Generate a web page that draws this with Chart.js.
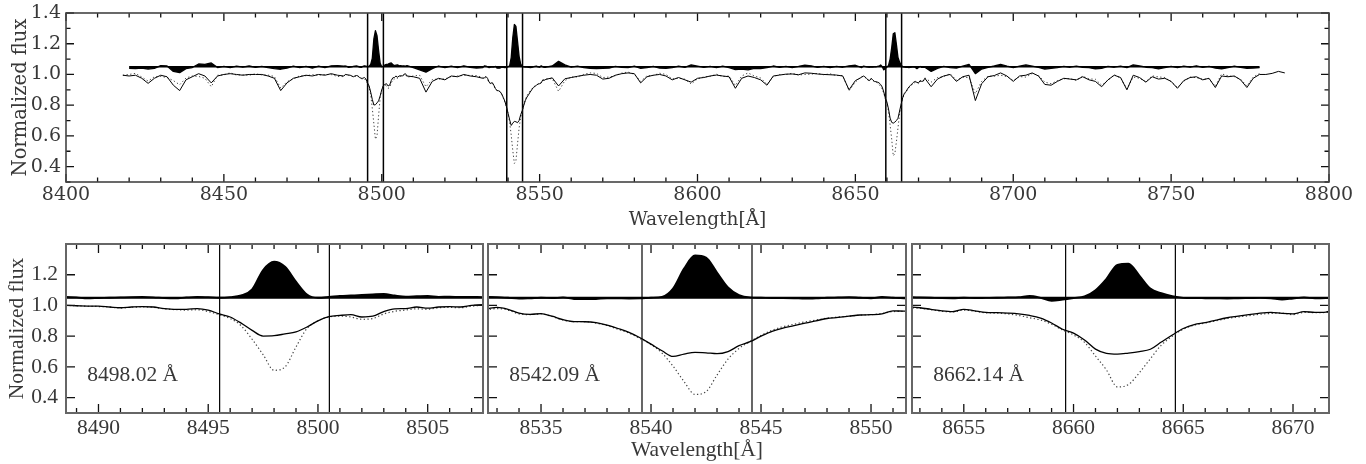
<!DOCTYPE html>
<html>

<head>
  <title>Ca II triplet spectrum</title>
  <script src="https://cdn.jsdelivr.net/npm/chart.js"></script>
  <style>
    body {
      margin: 0;
      background: #fff;
    }

    #figure {
      position: relative;
      width: 1366px;
      height: 464px;
    }

    #figure canvas {
      position: absolute;
    }

    #overview { left: 0; top: 0; }
    #zoom1 { left: 0; top: 236px; }
    #zoom2 { left: 486px; top: 236px; }
    #zoom3 { left: 910px; top: 236px; }
  </style>
</head>

<body>
  <div id="figure">
    <canvas id="overview" width="1366" height="236"></canvas>
    <canvas id="zoom1" width="486" height="228"></canvas>
    <canvas id="zoom2" width="422" height="228"></canvas>
    <canvas id="zoom3" width="456" height="228"></canvas>
  </div>

  <script>
    // ---------------- data ----------------
    // wavelength grid [A]: 2 A steps, 0.5 A steps around the three Ca II lines
    const wave = [
      8418, 8420, 8422, 8424, 8426, 8428, 8430, 8432, 8434, 8436, 8438, 8440, 8442, 8444, 8446, 8448, 8450, 8452,
      8454, 8456, 8458, 8460, 8462, 8464, 8466, 8468, 8470, 8472, 8474, 8476, 8478, 8480, 8482, 8484, 8486, 8488,
      8488.5, 8489, 8489.5, 8490, 8490.5, 8491, 8491.5, 8492, 8492.5, 8493,
      8493.5, 8494, 8494.5, 8495, 8495.5, 8496, 8496.5, 8497, 8497.5, 8498,
      8498.5, 8499, 8499.5, 8500, 8500.5, 8501, 8501.5, 8502, 8502.5, 8503,
      8503.5, 8504, 8504.5, 8505, 8505.5, 8506, 8506.5, 8507, 8507.5,
      8508, 8510, 8512, 8514, 8516, 8518, 8520, 8522, 8524, 8526, 8528, 8530, 8532,
      8532.5, 8533, 8533.5, 8534, 8534.5, 8535, 8535.5, 8536, 8536.5, 8537,
      8537.5, 8538, 8538.5, 8539, 8539.5, 8540, 8540.5, 8541, 8541.5, 8542,
      8542.5, 8543, 8543.5, 8544, 8544.5, 8545, 8545.5, 8546, 8546.5, 8547,
      8547.5, 8548, 8548.5, 8549, 8549.5, 8550, 8550.5, 8551, 8551.5,
      8552, 8554, 8556, 8558, 8560, 8562, 8564, 8566, 8568, 8570,
      8572, 8574, 8576, 8578, 8580, 8582, 8584, 8586, 8588, 8590,
      8592, 8594, 8596, 8598, 8600, 8602, 8604, 8606, 8608, 8610,
      8612, 8614, 8616, 8618, 8620, 8622, 8624, 8626, 8628, 8630,
      8632, 8634, 8636, 8638, 8640, 8642, 8644, 8646, 8648, 8650, 8652,
      8652.5, 8653, 8653.5, 8654, 8654.5, 8655, 8655.5, 8656, 8656.5, 8657,
      8657.5, 8658, 8658.5, 8659, 8659.5, 8660, 8660.5, 8661, 8661.5, 8662,
      8662.5, 8663, 8663.5, 8664, 8664.5, 8665, 8665.5, 8666, 8666.5, 8667,
      8667.5, 8668, 8668.5, 8669, 8669.5, 8670, 8670.5, 8671, 8671.5,
      8672, 8674, 8676, 8678, 8680, 8682, 8684, 8686, 8688, 8690,
      8692, 8694, 8696, 8698, 8700, 8702, 8704, 8706, 8708, 8710,
      8712, 8714, 8716, 8718, 8720, 8722, 8724, 8726, 8728, 8730,
      8732, 8734, 8736, 8738, 8740, 8742, 8744, 8746, 8748, 8750,
      8752, 8754, 8756, 8758, 8760, 8762, 8764, 8766, 8768, 8770,
      8772, 8774, 8776, 8778, 8780, 8782, 8784, 8786
    ];

    // observed spectrum (solid line)
    const obsFlux = [
      0.995, 0.99, 0.995, 0.975, 0.942, 0.975, 0.995, 0.985, 0.93, 0.895,
      0.965, 0.985, 1.005, 0.99, 0.945, 0.99, 1.0, 1.005, 1.0, 0.995,
      1.0, 1.0, 1.0, 0.99, 0.975, 0.895, 0.945, 0.975, 0.985, 0.995,
      0.99, 1.0, 0.995, 1.005, 0.995, 0.99,
      1.0, 0.998, 0.996, 0.995, 0.99, 0.985, 0.99, 0.993, 0.99, 0.98,
      0.975, 0.975, 0.98, 0.97, 0.945, 0.925, 0.885, 0.838, 0.801, 0.803,
      0.815, 0.828, 0.86, 0.9, 0.927, 0.935, 0.94, 0.925, 0.93, 0.96,
      0.978, 0.98, 0.99, 0.982, 0.99, 0.992, 0.99, 1.0, 1.005,
      0.99, 0.985, 0.975, 0.885, 0.955, 0.975, 0.965, 0.99, 0.985, 1.0, 0.99, 0.985, 0.975,
      0.978, 0.987, 0.975, 0.95, 0.942, 0.947, 0.93, 0.908, 0.895, 0.894,
      0.888, 0.872, 0.85, 0.825, 0.79, 0.748, 0.705, 0.668, 0.683, 0.695,
      0.692, 0.686, 0.7, 0.738, 0.764, 0.8, 0.832, 0.853, 0.868, 0.885,
      0.9, 0.915, 0.922, 0.93, 0.938, 0.94, 0.945, 0.965, 0.963,
      0.968, 0.978, 0.925, 0.972, 0.98, 0.988, 0.995, 1.0, 0.995, 0.97,
      0.975, 0.995, 1.005, 1.01, 1.005, 0.945, 0.985, 0.995, 1.0, 0.99,
      0.965, 0.98, 0.965, 0.95, 0.975, 0.98, 0.99, 0.996, 0.99, 0.985,
      0.91, 0.975, 0.99, 0.98, 0.965, 0.93, 0.99, 0.996, 1.002, 1.003,
      0.998, 1.01, 1.008, 1.003, 1.0, 0.998, 0.996, 0.99, 0.9, 0.96, 0.982,
      0.99, 0.985, 0.975, 0.965, 0.96, 0.975, 0.965, 0.955, 0.953, 0.95,
      0.945, 0.935, 0.918, 0.886, 0.845, 0.82, 0.775, 0.716, 0.688, 0.683,
      0.69, 0.7, 0.715, 0.762, 0.808, 0.85, 0.876, 0.888, 0.905, 0.92,
      0.93, 0.94, 0.95, 0.955, 0.948, 0.945, 0.96, 0.955, 0.957,
      0.975, 0.92, 0.97, 0.99, 1.0, 0.955, 0.985, 0.995, 0.83, 0.94,
      0.985, 0.993, 1.01, 0.99, 0.955, 0.99, 0.995, 1.01, 0.99, 0.935,
      0.93, 0.955, 0.975, 0.97, 0.965, 0.985, 0.965, 0.955, 0.92, 0.965,
      0.995, 0.98, 0.9, 0.995, 0.98, 0.95, 0.985, 0.97, 0.975, 0.955,
      0.91, 0.96, 0.98, 0.985, 0.965, 0.975, 0.915, 0.99, 0.985, 0.99,
      0.965, 0.915, 0.975, 1.0, 1.0, 1.007, 1.02, 1.01
    ];

    // template spectrum (dotted line)
    const tmplFlux = [
      0.995, 1.0, 1.007, 0.983, 0.957, 0.985, 0.987, 0.98, 0.96, 0.933,
      0.977, 0.99, 0.987, 0.975, 0.92, 0.995, 0.997, 1.011, 0.996, 0.998,
      0.995, 1.004, 0.997, 0.996, 0.987, 0.911, 0.953, 0.971, 0.991, 0.992,
      0.998, 0.996, 1.0, 0.999, 0.987, 0.986,
      1.0, 0.998, 0.995, 0.993, 0.99, 0.983, 0.988, 0.99, 0.988, 0.978,
      0.973, 0.97, 0.972, 0.96, 0.94, 0.915, 0.868, 0.78, 0.68, 0.578,
      0.6, 0.73, 0.85, 0.9, 0.925, 0.93, 0.925, 0.91, 0.915, 0.945,
      0.962, 0.97, 0.978, 0.975, 0.985, 0.987, 0.985, 0.995, 1.0,
      0.982, 0.99, 0.995, 0.92, 0.967, 0.97, 0.971, 0.986, 0.99, 0.994, 0.994, 0.993, 0.98,
      0.972, 0.98, 0.97, 0.945, 0.94, 0.945, 0.928, 0.905, 0.895, 0.895,
      0.885, 0.87, 0.845, 0.82, 0.785, 0.745, 0.69, 0.605, 0.505, 0.421,
      0.439, 0.547, 0.651, 0.72, 0.765, 0.805, 0.838, 0.862, 0.878, 0.893,
      0.905, 0.917, 0.925, 0.93, 0.937, 0.94, 0.948, 0.96, 0.962,
      0.971, 0.973, 0.89, 0.96, 0.983, 0.984, 1.001, 1.01, 1.007, 0.98,
      0.983, 0.992, 1.009, 1.016, 1.001, 0.955, 0.991, 0.993, 1.008, 1.0,
      0.971, 0.976, 0.969, 0.938, 0.971, 0.984, 0.987, 1.002, 0.986, 0.99,
      0.928, 0.99, 1.01, 0.99, 0.977, 0.936, 0.985, 1.0, 0.999, 1.008,
      0.996, 1.0, 1.002, 1.007, 0.998, 1.004, 0.993, 0.993, 0.894, 0.95, 0.987,
      0.985, 0.982, 0.972, 0.962, 0.958, 0.97, 0.962, 0.952, 0.95, 0.945,
      0.935, 0.92, 0.905, 0.878, 0.84, 0.808, 0.76, 0.671, 0.58, 0.47,
      0.485, 0.562, 0.653, 0.742, 0.8, 0.845, 0.872, 0.885, 0.9, 0.915,
      0.925, 0.933, 0.943, 0.948, 0.95, 0.94, 0.955, 0.953, 0.955,
      0.978, 0.95, 0.98, 0.987, 1.005, 0.963, 0.981, 0.98, 0.875, 0.955,
      0.989, 0.988, 0.995, 0.986, 0.961, 0.986, 0.983, 1.006, 0.994, 0.95,
      0.94, 0.96, 0.972, 0.973, 0.961, 0.989, 0.971, 0.969, 0.93, 0.962,
      0.998, 0.976, 0.906, 0.983, 0.975, 0.953, 0.991, 0.984, 0.98, 0.952,
      0.916, 0.956, 0.983, 0.979, 0.969, 0.972, 0.923, 1.004, 0.991, 0.986,
      0.969, 0.925, 0.983, 1.006, null, null, null, null
    ];

    // observed minus template, plotted shifted up by residualOffset (black fill)
    const residual = [
      null, -0.01, -0.012, -0.008, -0.015, -0.01, 0.008, 0.005, -0.03, -0.038,
      -0.012, -0.005, 0.018, 0.015, 0.025, -0.005, 0.003, -0.006, 0.004, -0.003,
      0.005, -0.004, 0.003, -0.006, -0.012, -0.016, -0.008, 0.004, -0.006, 0.003,
      -0.008, 0.004, -0.005, 0.006, 0.008, 0.004,
      0.005, 0.002, -0.004, -0.002, 0.0, 0.002, 0.004, 0.005, 0.003, -0.002,
      -0.004, 0.002, 0.006, 0.004, 0.0, 0.004, 0.015, 0.055, 0.181, 0.235,
      0.202, 0.105, 0.022, 0.0, 0.005, 0.012, 0.015, 0.018, 0.022, 0.025,
      0.015, 0.008, 0.01, 0.012, 0.006, 0.008, 0.005, 0.006, 0.004,
      0.008, -0.005, -0.02, -0.035, -0.012, 0.005, -0.006, 0.004, -0.005, 0.006, -0.004, -0.008, -0.005,
      0.006, 0.004, 0.0, -0.005, -0.003, 0.0, -0.002, 0.002, -0.008, -0.009,
      -0.008, -0.003, -0.004, -0.005, -0.004, 0.0, 0.006, 0.06, 0.19, 0.275,
      0.262, 0.165, 0.068, 0.018, 0.002, 0.0, -0.002, -0.002, -0.003, -0.006,
      -0.004, 0.0, 0.002, 0.004, 0.0, -0.003, 0.006, 0.0, -0.004,
      -0.003, 0.005, 0.035, 0.012, -0.003, 0.004, -0.006, -0.01, -0.012, -0.01,
      -0.008, 0.003, -0.004, -0.006, 0.004, -0.01, -0.006, 0.002, -0.008, -0.01,
      -0.006, 0.004, -0.004, 0.012, 0.004, -0.004, 0.003, -0.006, 0.004, -0.005,
      -0.018, -0.015, -0.02, -0.01, -0.012, -0.006, 0.005, -0.004, 0.003, -0.005,
      0.002, 0.01, 0.006, -0.004, 0.002, -0.006, 0.003, -0.003, 0.006, 0.01, -0.005,
      0.004, 0.002, 0.0, -0.002, -0.003, 0.0, -0.002, -0.001, 0.0, 0.002,
      0.004, 0.012, 0.0, -0.02, -0.012, -0.002, 0.009, 0.05, 0.124, 0.215,
      0.222, 0.145, 0.06, 0.03, 0.011, 0.0, -0.002, -0.003, -0.004, -0.005,
      -0.003, -0.002, -0.001, -0.004, -0.012, -0.005, 0.002, -0.004, -0.002,
      -0.003, -0.03, -0.01, 0.003, -0.005, -0.008, 0.004, 0.015, -0.045, -0.015,
      -0.004, 0.005, 0.015, 0.004, -0.006, 0.004, 0.012, 0.004, -0.004, -0.015,
      -0.01, -0.005, 0.003, -0.003, 0.004, -0.004, -0.006, -0.014, -0.01, 0.003,
      -0.003, 0.004, -0.006, 0.012, 0.005, -0.003, -0.006, -0.014, -0.005, 0.003,
      -0.006, 0.004, -0.003, 0.006, -0.004, 0.003, -0.008, -0.014, -0.006, 0.004,
      -0.004, -0.01, -0.008, -0.006, null, null, null, null
    ];

    const lineCenters = [8498.02, 8542.09, 8662.14];
    const lineLabels = ["8498.02 Å", "8542.09 Å", "8662.14 Å"];
    const windowHalfWidth = 2.5;  // integration window [A]
    const zoomHalfWidth = 9.5;    // half range of the lower panels [A]
    const residualOffset = 1.05;
    const fluxMin = 0.3;
    const fluxMax = 1.4;

    const overviewXTicks = [8400, 8450, 8500, 8550, 8600, 8650, 8700, 8750, 8800];
    const overviewYTicks = [0.4, 0.6, 0.8, 1.0, 1.2, 1.4];
    const zoomXTicks = [
      [8490, 8495, 8500, 8505],
      [8535, 8540, 8545, 8550],
      [8655, 8660, 8665, 8670]
    ];
    const zoomYTicks = [0.4, 0.6, 0.8, 1.0, 1.2];

    // ---------------- styling ----------------
    const ink = "#000";
    const textColor = "#383838";
    const topFont = "DejaVu Serif";
    const lowFont = "Liberation Serif";

    // inward ticks + frame + panel label, per canvas
    const frameSpecs = {};

    function steps(min, max, step) {
      const out = [];
      for (let k = Math.ceil(min / step - 1e-6); k * step <= max + 1e-6; k++) out.push(k * step);
      return out;
    }

    const framePlugin = {
      id: "frame",
      afterDraw(chart) {
        const spec = frameSpecs[chart.canvas.id];
        if (!spec) return;
        const { ctx, chartArea: a } = chart;
        const x = chart.scales.x;
        const y = chart.scales.y;
        ctx.save();
        ctx.strokeStyle = "#111";
        ctx.lineWidth = 1.3;
        ctx.beginPath();
        const xTick = (v, len) => {
          const px = x.getPixelForValue(v);
          ctx.moveTo(px, a.bottom);
          ctx.lineTo(px, a.bottom - len);
          ctx.moveTo(px, a.top);
          ctx.lineTo(px, a.top + len);
        };
        const yTick = (v, len) => {
          const py = y.getPixelForValue(v);
          ctx.moveTo(a.left, py);
          ctx.lineTo(a.left + len, py);
          ctx.moveTo(a.right, py);
          ctx.lineTo(a.right - len, py);
        };
        steps(x.min, x.max, spec.xMinorStep).forEach(v => xTick(v, spec.minorLen));
        spec.xMajor.forEach(v => xTick(v, spec.majorLen));
        if (spec.yMinorStep) steps(y.min, y.max, spec.yMinorStep).forEach(v => yTick(v, spec.minorLen));
        spec.yMajor.forEach(v => yTick(v, spec.majorLen));
        ctx.stroke();

        ctx.strokeStyle = spec.frameColor;
        ctx.lineWidth = spec.frameWidth;
        ctx.strokeRect(a.left, a.top, a.right - a.left, a.bottom - a.top);

        if (spec.label) {
          ctx.fillStyle = textColor;
          ctx.font = spec.labelFont;
          ctx.textAlign = "left";
          ctx.textBaseline = "middle";
          ctx.fillText(spec.label, x.getPixelForValue(spec.labelX), y.getPixelForValue(spec.labelY));
        }
        ctx.restore();
      }
    };
    Chart.register(framePlugin);

    function points(values, offset, lo, hi) {
      const out = [];
      wave.forEach((w, i) => {
        if (w < lo || w > hi) return;
        const v = values[i];
        out.push({ x: w, y: v === null ? null : v + offset });
      });
      return out;
    }

    function spectrumDatasets(lo, hi, smooth, baseLo, baseHi) {
      const common = {
        pointRadius: 0,
        borderJoinStyle: "round",
        cubicInterpolationMode: smooth ? "monotone" : "default",
        tension: 0
      };
      return [
        { ...common, data: points(obsFlux, 0, lo, hi), borderColor: ink, borderWidth: smooth ? 1.3 : 1, fill: false, order: 0 },
        { ...common, data: points(tmplFlux, 0, lo, hi), borderColor: "#444", borderWidth: smooth ? 1.2 : 1, borderDash: [1.3, 2.4], fill: false, order: 1 },
        { ...common, data: [{ x: baseLo, y: residualOffset }, { x: baseHi, y: residualOffset }], borderColor: ink, borderWidth: smooth ? 2 : 1.6, fill: false, order: 2 },
        { ...common, data: points(residual, residualOffset, lo, hi), borderColor: ink, backgroundColor: ink, borderWidth: smooth ? 1.8 : 1.3, fill: { value: residualOffset }, order: 3 }
      ];
    }

    function windowLines(centers, width) {
      const out = [];
      centers.forEach(c => {
        [c - windowHalfWidth, c + windowHalfWidth].forEach(e => {
          out.push({
            data: [{ x: e, y: fluxMin }, { x: e, y: fluxMax }],
            borderColor: ink,
            borderWidth: width,
            pointRadius: 0,
            fill: false,
            order: 4
          });
        });
      });
      return out;
    }

    function baseOptions(padding) {
      return {
        responsive: false,
        animation: false,
        devicePixelRatio: 1,
        events: [],
        layout: { padding: padding },
        plugins: { legend: { display: false }, tooltip: { enabled: false } }
      };
    }

    // ---------------- overview panel ----------------
    const resIdx = residual.map((v, i) => (v === null ? -1 : i)).filter(i => i >= 0);
    const resLo = wave[resIdx[0]];
    const resHi = wave[resIdx[resIdx.length - 1]];

    frameSpecs.overview = {
      xMajor: overviewXTicks, xMinorStep: 10,
      yMajor: overviewYTicks, yMinorStep: 0.1,
      majorLen: 8, minorLen: 4.5,
      frameColor: "#444", frameWidth: 1.6
    };

    const overviewOptions = baseOptions({ top: 13, right: 37, left: 0, bottom: 0 });
    overviewOptions.scales = {
      x: {
        type: "linear",
        min: 8400,
        max: 8800,
        grid: { display: false, drawTicks: false },
        border: { display: false },
        afterBuildTicks: axis => { axis.ticks = overviewXTicks.map(v => ({ value: v })); },
        afterFit: axis => { axis.height = 54; axis.paddingLeft = 0; axis.paddingRight = 0; },
        ticks: {
          padding: 2, color: textColor, maxRotation: 0, autoSkip: false,
          font: { family: topFont, size: 19 },
          callback: v => String(v)
        },
        title: {
          display: true, text: "Wavelength[Å]", color: textColor,
          font: { family: topFont, size: 18.5 },
          padding: { top: 0, bottom: 5 }
        }
      },
      y: {
        min: fluxMin,
        max: fluxMax,
        grid: { display: false, drawTicks: false },
        border: { display: false },
        afterBuildTicks: axis => { axis.ticks = overviewYTicks.map(v => ({ value: v })); },
        afterFit: axis => { axis.width = 66; axis.paddingTop = 0; axis.paddingBottom = 0; },
        ticks: {
          padding: 5, color: textColor, autoSkip: false,
          font: { family: topFont, size: 19 },
          callback: v => v.toFixed(1)
        },
        title: {
          display: true, text: "Normalized flux", color: textColor,
          font: { family: topFont, size: 19.5 },
          padding: { top: 9, bottom: 0 }
        }
      }
    };

    new Chart(document.getElementById("overview"), {
      type: "line",
      data: {
        datasets: spectrumDatasets(8400, 8800, false, resLo, resHi).concat(windowLines(lineCenters, 1.5))
      },
      options: overviewOptions
    });

    // ---------------- zoomed panels ----------------
    lineCenters.forEach((center, i) => {
      const id = "zoom" + (i + 1);
      const lo = center - zoomHalfWidth;
      const hi = center + zoomHalfWidth;
      const first = i === 0;
      const middle = i === 1;

      frameSpecs[id] = {
        xMajor: zoomXTicks[i], xMinorStep: 1,
        yMajor: zoomYTicks, yMinorStep: 0,
        majorLen: 9, minorLen: 5,
        frameColor: "#666", frameWidth: 2,
        label: lineLabels[i],
        labelFont: "21.5px '" + lowFont + "'",
        labelX: lo + 0.97,
        labelY: 0.545
      };

      const padding = first ? { top: 8, right: 3, left: 0, bottom: 0 }
        : middle ? { top: 8, right: 2, left: 2, bottom: 0 }
          : { top: 8, right: 37, left: 2, bottom: 0 };

      const opts = baseOptions(padding);
      opts.scales = {
        x: {
          type: "linear",
          min: lo,
          max: hi,
          grid: { display: false, drawTicks: false },
          border: { display: false },
          afterBuildTicks: axis => { axis.ticks = zoomXTicks[i].map(v => ({ value: v })); },
          afterFit: axis => { axis.height = 51; axis.paddingLeft = 0; axis.paddingRight = 0; },
          ticks: {
            padding: 2, color: textColor, maxRotation: 0, autoSkip: false,
            font: { family: lowFont, size: 21.5 },
            callback: v => String(v)
          },
          title: {
            display: middle, text: "Wavelength[Å]", color: textColor,
            font: { family: lowFont, size: 21.5 },
            padding: { top: 0, bottom: 1 }
          }
        },
        y: {
          display: first,
          min: fluxMin,
          max: fluxMax,
          grid: { display: false, drawTicks: false },
          border: { display: false },
          afterBuildTicks: axis => { axis.ticks = zoomYTicks.map(v => ({ value: v })); },
          afterFit: axis => { if (first) { axis.width = 66; } axis.paddingTop = 0; axis.paddingBottom = 0; },
          ticks: {
            padding: 8, color: textColor, autoSkip: false,
            font: { family: lowFont, size: 21.5 },
            callback: v => v.toFixed(1)
          },
          title: {
            display: first, text: "Normalized flux", color: textColor,
            font: { family: lowFont, size: 21.5 },
            padding: { top: 4, bottom: 0 }
          }
        }
      };

      new Chart(document.getElementById(id), {
        type: "line",
        data: {
          datasets: spectrumDatasets(lo - 1, hi + 1, true, lo, hi).concat(windowLines([center], 1.2))
        },
        options: opts
      });
    });
  </script>
</body>

</html>
